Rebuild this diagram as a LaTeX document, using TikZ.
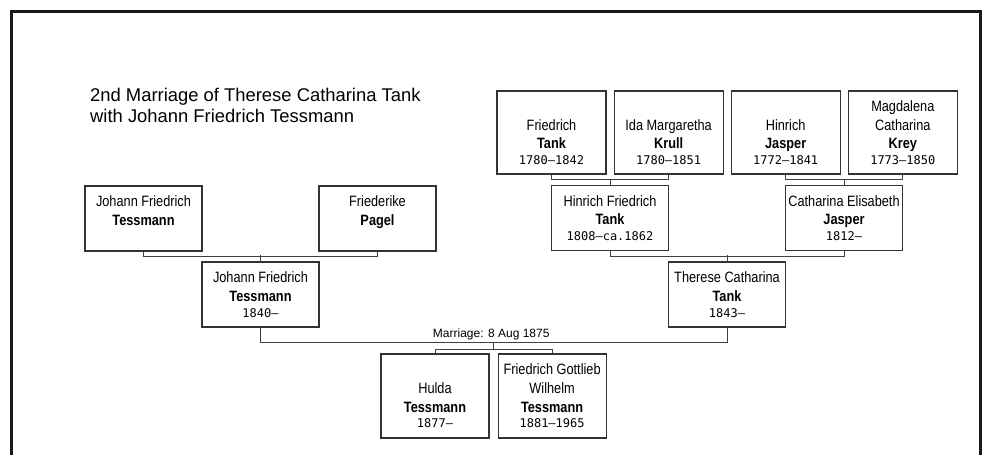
\documentclass[tikz,border=0pt]{standalone}
\usepackage{fontspec}
\setmainfont{Liberation Sans}
\newfontfamily\namefont[FakeStretch=0.85]{Liberation Sans}
\newfontfamily\datefont[Scale=0.8]{DejaVu Sans Mono}
\usetikzlibrary{positioning, calc}

% first name(s), surname, years
\newcommand{\Entry}[3]{#1\\\textbf{#2}\\[-3pt]{\datefont #3}}

\begin{document}
\begin{tikzpicture}[
        x=1pt, y=-1pt,
        Person/.style={rectangle, draw=black!80, line width=1.1pt, fill=white, align=center, inner sep=2pt, minimum width=117pt, minimum height=65pt, font=\namefont\fontsize{15}{18.7}\selectfont},
        Ancestor/.style={Person, minimum width=109pt, minimum height=83pt},
        Child/.style={Person, minimum width=108pt, minimum height=84pt},
        Link/.style={draw=black!75, line width=0.9pt},
        Frame/.style={draw=black!90, line width=3pt, line join=miter},
        Title/.style={align=left, inner sep=0pt, font=\fontsize{18.4}{21}\selectfont},
        Label/.style={inner sep=0pt, font=\fontsize{12}{14}\selectfont}
    ]
    \useasboundingbox (0,0) rectangle (985,455);

    % Frame round the chart (open at the bottom)
    \draw[Frame] (11.5,455) -- (11.5,11.5) -- (980.5,11.5) -- (980.5,455);

    % Title
    \node (TITLE) [Title, anchor=north west] at (90,87.6) {2nd Marriage of Therese Catharina Tank\\with Johann Friedrich Tessmann};

    % Tessmann side
    \node (JFT_SR) [Person] at (143.5,218.5) {\Entry{Johann Friedrich}{Tessmann}{}};
    \node (PAGEL) [Person] at (377.5,218.5) {\Entry{Friederike}{Pagel}{}};
    \node (JFT) [Person] at (260.5,294.5) {\Entry{Johann Friedrich}{Tessmann}{1840–}};

    % Tank side, grandparents
    \node (F_TANK) [Ancestor] at (551.5,132.5) {\Entry{\vphantom{Hd}\\Friedrich}{Tank}{1780–1842}};
    \node (KRULL) [Ancestor, right=7pt of F_TANK] {\Entry{\vphantom{Hd}\\Ida Margaretha}{Krull}{1780–1851}};
    \node (H_JASPER) [Ancestor, right=7pt of KRULL] {\Entry{\vphantom{Hd}\\Hinrich}{Jasper}{1772–1841}};
    \node (KREY) [Ancestor, right=7pt of H_JASPER] {\Entry{Magdalena\\Catharina}{Krey}{1773–1850}};

    % Tank side, parents and bride
    \node (HF_TANK) [Person] at (610,218) {\Entry{Hinrich Friedrich}{Tank}{1808–ca.1862}};
    \node (CE_JASPER) [Person] at (844,218) {\Entry{Catharina Elisabeth}{Jasper}{1812–}};
    \node (TC_TANK) [Person] at (727,294.5) {\Entry{Therese Catharina}{Tank}{1843–}};

    % Children
    \node (HULDA) [Child] at (435,396) {\Entry{\vphantom{Hd}\\Hulda}{Tessmann}{1877–}};
    \node (FGW_T) [Child, right=8pt of HULDA] {\Entry{Friedrich Gottlieb\\Wilhelm}{Tessmann}{1881–1965}};

    % Parent links
    \draw[Link] (JFT_SR.south) -- ++(0,5) -| (PAGEL.south);
    \draw[Link] (JFT.north) -- ++(0,-6);
    \draw[Link] (F_TANK.south) -- ++(0,5) -| (KRULL.south);
    \draw[Link] (HF_TANK.north) -- ++(0,-6);
    \draw[Link] (H_JASPER.south) -- ++(0,5) -| (KREY.south);
    \draw[Link] (CE_JASPER.north) -- ++(0,-6);
    \draw[Link] (HF_TANK.south) -- ++(0,5) -| (CE_JASPER.south);
    \draw[Link] (TC_TANK.north) -- ++(0,-6);

    % Marriage and children
    \draw[Link] (JFT.south) -- ++(0,15) -| (TC_TANK.south);
    \coordinate (MARR_J) at ($(JFT.south)!0.5!(TC_TANK.south)+(0,15)$);
    \node (MARR) [Label, above=2pt of MARR_J, xshift=-2.5pt] {Marriage: 8 Aug 1875};
    \draw[Link] (MARR_J) -- ++(0,7) coordinate (KIDS_J);
    \draw[Link] (HULDA.north) |- (KIDS_J) -| (FGW_T.north);

\end{tikzpicture}
\end{document}
